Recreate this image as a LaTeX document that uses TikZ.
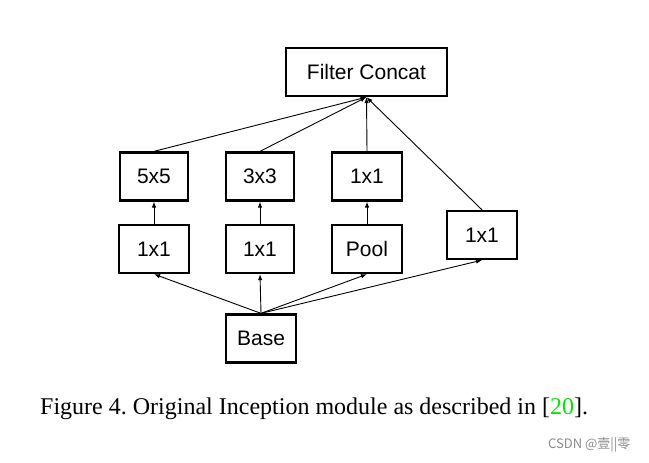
\documentclass[tikz,border=0pt]{standalone}
\usepackage{fontspec}
\setmainfont{Liberation Serif}
\newfontfamily\boxfont{Liberation Sans}
\newfontfamily\cjkfont{Noto Sans CJK SC}
\usetikzlibrary{arrows.meta}
\definecolor{refgreen}{RGB}{0,230,0}
\begin{document}
\frenchspacing
\begin{tikzpicture}[x=1pt,y=-1pt,
  blk/.style={draw=black,line width=2.3pt,minimum height=48pt,inner sep=0pt,font=\boxfont\fontsize{21}{25}\selectfont,fill=white},
  con/.style={line width=0.9pt,-{Latex[length=6pt,width=4.5pt]}}]
\useasboundingbox (0,0) rectangle (649,463);
\node[blk,minimum width=161pt] (fc) at (366.5,72) {Filter Concat};
\node[blk,minimum width=68pt] (a5) at (154,176.5) {5x5};
\node[blk,minimum width=68pt] (a3) at (260,176.5) {3x3};
\node[blk,minimum width=70pt] (a1) at (367,176.5) {1x1};
\node[blk,minimum width=70pt] (b1) at (154,249) {1x1};
\node[blk,minimum width=68pt] (b2) at (260,249) {1x1};
\node[blk,minimum width=70pt] (bp) at (367,249) {Pool};
\node[blk,minimum width=70pt] (r1) at (482,235) {1x1};
\node[blk,minimum width=70pt] (base) at (261,338.5) {Base};
\draw[con] (a5.north) -- (fc.south);
\draw[con] (a3.north) -- (fc.south);
\draw[con] (a1.north) -- (fc.south);
\draw[con] (r1.north) -- (fc.south);
\draw[con] (b1.north) -- (a5.south);
\draw[con] (b2.north) -- (a3.south);
\draw[con] (bp.north) -- (a1.south);
\draw[con] (base.north) -- (b1.south);
\draw[con] (base.north) -- (b2.south);
\draw[con] (base.north) -- (bp.south);
\draw[con] (base.north) -- (r1.south);
\node[anchor=base west,inner sep=0pt,font=\fontsize{24}{28}\selectfont] (cap) at (40,414) {Figure 4. Original Inception module as described in [\textcolor{refgreen}{20}].};
\node[anchor=base west,inner sep=0pt,text=black!45,font=\cjkfont\fontsize{13}{15}\selectfont] (wm) at (548,448) {CSDN @壹||零};
\end{tikzpicture}
\end{document}
